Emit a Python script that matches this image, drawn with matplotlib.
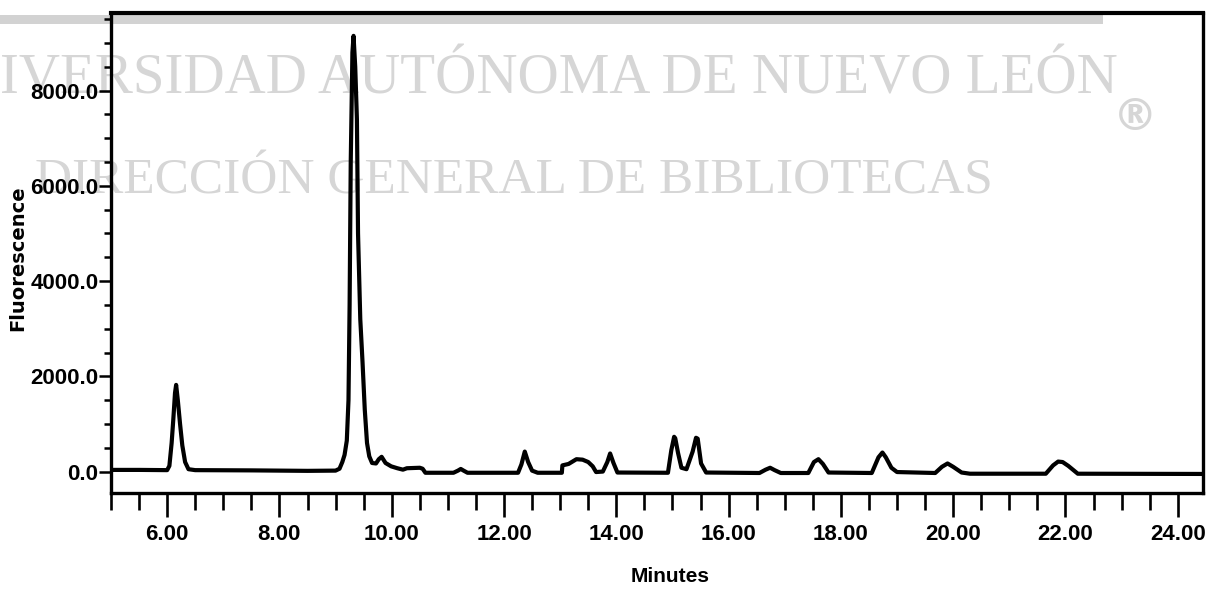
import matplotlib
matplotlib.use("Agg")
import matplotlib.pyplot as plt
from matplotlib.ticker import FixedLocator, FuncFormatter
from matplotlib.patches import Rectangle

# ---- data (minutes, fluorescence) ----
time_min = [5.0, 5.5, 6.0, 6.04, 6.08, 6.11, 6.14, 6.16, 6.19, 6.23, 6.27, 6.32, 6.38, 6.5,
            7.5, 8.5, 9.0, 9.07, 9.12, 9.16, 9.2, 9.23, 9.25, 9.27, 9.3, 9.32, 9.35, 9.38,
            9.40, 9.44, 9.48, 9.52, 9.56, 9.6, 9.65, 9.72, 9.77, 9.82, 9.89, 9.99, 10.1,
            10.2, 10.27, 10.5, 10.55, 10.6, 11.1, 11.18, 11.23, 11.28, 11.35, 12.25, 12.31,
            12.37, 12.43, 12.5, 12.6, 13.03, 13.04, 13.15, 13.29, 13.4, 13.5, 13.58, 13.64,
            13.76, 13.84, 13.89, 13.95, 14.02, 14.92, 14.98, 15.03, 15.05, 15.10, 15.16,
            15.25, 15.36, 15.42, 15.45, 15.51, 15.6, 16.55, 16.66, 16.74, 16.82, 16.93,
            17.42, 17.52, 17.6, 17.68, 17.78, 18.55, 18.67, 18.74, 18.8, 18.9, 19.0, 19.68,
            19.8, 19.9, 20.0, 20.15, 20.3, 21.65, 21.78, 21.87, 21.95, 22.05, 22.22, 24.45]
fluorescence = [35, 35, 30, 120, 600, 1100, 1650, 1820, 1500, 1000, 550, 200, 50, 30,
                25, 15, 20, 60, 200, 350, 650, 1500, 3500, 6500, 8800, 9150, 8500, 7400,
                5000, 3200, 2300, 1300, 600, 320, 180, 170, 260, 310, 180, 110, 70,
                40, 70, 80, 60, -25, -25, 20, 55, 20, -25, -25, 150,
                420, 200, 20, -25, -25, 130, 160, 260, 250, 200, 110, -10,
                0, 200, 380, 180, -20, -25, 450, 730, 700, 390, 80,
                50, 420, 710, 690, 170, -20, -30, 40, 80, 30, -30,
                -30, 200, 260, 160, -20, -30, 300, 400, 300, 80, -10, -30,
                100, 170, 100, -20, -45, -45, 130, 210, 200, 120, -45, -50]

x_major = [6, 8, 10, 12, 14, 16, 18, 20, 22, 24]
x_minor = [5.0, 5.5, 6.5, 7.0, 7.5, 8.5, 9.0, 9.5, 10.5, 11.0, 11.5, 12.5, 13.0, 13.5,
           14.5, 15.0, 15.5, 16.5, 17.0, 17.5, 18.5, 19.0, 19.5, 20.5, 21.0, 21.5,
           22.5, 23.0, 23.5]
y_major = [0, 2000, 4000, 6000, 8000]
y_minor = [500, 1000, 1500, 2500, 3000, 3500, 4500, 5000, 5500, 6500, 7000, 7500,
           8500, 9000, 9500]

watermark_1 = "IVERSIDAD AUTÓNOMA DE NUEVO LEÓN"
watermark_2 = "DIRECCIÓN GENERAL DE BIBLIOTECAS"
watermark_mark = "®"

W, H = 1207, 590
fig = plt.figure(figsize=(W / 100, H / 100), dpi=100)
fig.patch.set_facecolor("white")

sans = ["Liberation Sans Narrow", "Liberation Sans", "DejaVu Sans"]
wm_color = "#d6d6d6"

# watermark (behind the chart)
fig.add_artist(Rectangle((0, 1 - 24 / H), 1103 / W, 9 / H, transform=fig.transFigure,
                         facecolor="#d2d2d2", edgecolor="none", zorder=-2))
fig.text(0 / W, 1 - 93 / H, watermark_1, family="Liberation Serif", fontsize=41,
         color=wm_color, ha="left", va="baseline", zorder=-1)
fig.text(35 / W, 1 - 193 / H, watermark_2, family="Liberation Serif", fontsize=37,
         color=wm_color, ha="left", va="baseline", zorder=-1)
fig.text(1135 / W, 1 - 117 / H, watermark_mark, family="DejaVu Sans", fontweight="bold",
         fontsize=32, color=wm_color, ha="center", va="center", zorder=-1)

ax = fig.add_axes([111 / W, 1 - 493 / H, (1203 - 111) / W, (493 - 13) / H])
ax.patch.set_alpha(0)

ax.plot(time_min, fluorescence, color="black", lw=3.0, solid_joinstyle="round",
        solid_capstyle="round")

ax.set_xlim(5.0, 24.45)
ax.set_ylim(-450, 9630)

for s in ax.spines.values():
    s.set_linewidth(2.4)
    s.set_color("black")
ax.spines["top"].set_linewidth(3.0)

ax.xaxis.set_major_locator(FixedLocator(x_major))
ax.xaxis.set_minor_locator(FixedLocator(x_minor))
ax.yaxis.set_major_locator(FixedLocator(y_major))
ax.yaxis.set_minor_locator(FixedLocator(y_minor))
ax.xaxis.set_major_formatter(FuncFormatter(lambda v, p: f"{v:.2f}"))
ax.yaxis.set_major_formatter(FuncFormatter(lambda v, p: f"{v:.1f}"))

ax.tick_params(axis="x", which="major", direction="out", length=17, width=1.9, pad=5)
ax.tick_params(axis="x", which="minor", direction="out", length=12, width=1.9)
ax.tick_params(axis="y", which="major", direction="out", length=8.5, width=1.8, pad=0.5)
ax.tick_params(axis="y", which="minor", direction="out", length=5, width=1.8)

for lab in ax.get_xticklabels() + ax.get_yticklabels():
    lab.set_family(sans)
    lab.set_fontweight("bold")
    lab.set_fontsize(16)

ax.set_xlabel("Minutes", family=sans, fontweight="bold", fontsize=15)
ax.set_ylabel("Fluorescence", family="DejaVu Sans", fontweight="bold", fontsize=14)
ax.xaxis.set_label_coords((670 - 111) / (1203 - 111), -(567 - 493) / (493 - 13))
ax.yaxis.set_label_coords(-(111 - 27) / (1203 - 111), (493 - 258) / (493 - 13))

fig.savefig("out.png", dpi=100, facecolor="white")
